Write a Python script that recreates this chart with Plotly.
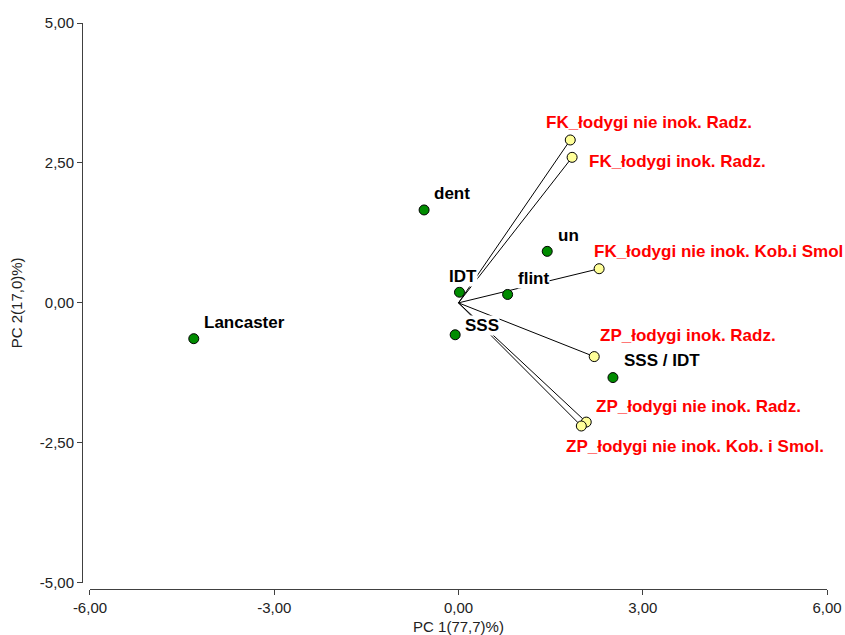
import plotly.graph_objects as go

# Object scores (green)
obj_names = ["Lancaster", "dent", "un", "IDT", "flint", "SSS", "SSS / IDT"]
obj_pc1 = [-4.31, -0.56, 1.445, 0.016, 0.80, -0.054, 2.515]
obj_pc2 = [-0.64, 1.66, 0.92, 0.19, 0.15, -0.57, -1.335]

# Variable loadings (yellow, with vectors from origin)
var_names = ["FK_łodygi nie inok. Radz.", "FK_łodygi inok. Radz.",
             "FK_łodygi nie inok. Kob.i Smol", "ZP_łodygi inok. Radz.",
             "ZP_łodygi nie inok. Radz.", "ZP_łodygi nie inok. Kob. i Smol."]
var_pc1 = [1.82, 1.85, 2.29, 2.21, 2.08, 2.00]
var_pc2 = [2.91, 2.60, 0.61, -0.96, -2.13, -2.20]

tick_x_vals = [-6, -3, 0, 3, 6]
tick_x_text = ["-6,00", "-3,00", "0,00", "3,00", "6,00"]
tick_y_vals = [-5, -2.5, 0, 2.5, 5]
tick_y_text = ["-5,00", "-2,50", "0,00", "2,50", "5,00"]

# label offsets in pixels (dx to left edge, dy to center, screen coords)
obj_off = [(9.7, -16.3), (9.3, -16.7), (9.7, -16.3), (-11.7, -15.6),
           (9, -16.4), (9.3, -9.3), (10, -17)]
var_off = [(-25, -17.6), (16.3, 4.3), (-5.7, -17.3), (5, -20.7),
           (8.3, -15.6), (-16.3, 20.7)]

FONT = "Liberation Sans, Arial, sans-serif"

fig = go.Figure()

# vectors
for x, y in zip(var_pc1, var_pc2):
    fig.add_trace(go.Scatter(x=[0, x], y=[0, y], mode="lines",
                             line=dict(color="black", width=1),
                             hoverinfo="skip", showlegend=False))

fig.add_trace(go.Scatter(x=obj_pc1, y=obj_pc2, mode="markers",
                         marker=dict(size=10, color="#008C00",
                                     line=dict(color="black", width=1)),
                         showlegend=False))
fig.add_trace(go.Scatter(x=var_pc1, y=var_pc2, mode="markers",
                         marker=dict(size=10, color="#FFFF99",
                                     line=dict(color="black", width=1)),
                         showlegend=False))

for n, x, y, (dx, dy) in zip(obj_names, obj_pc1, obj_pc2, obj_off):
    fig.add_annotation(x=x, y=y, text=n, showarrow=False, xanchor="left",
                       yanchor="middle", xshift=dx, yshift=-dy,
                       bgcolor="white", borderpad=0,
                       font=dict(family=FONT, size=17, color="black", weight="bold"))
for n, x, y, (dx, dy) in zip(var_names, var_pc1, var_pc2, var_off):
    fig.add_annotation(x=x, y=y, text=n, showarrow=False, xanchor="left",
                       yanchor="middle", xshift=dx, yshift=-dy,
                       bgcolor="white", borderpad=0,
                       font=dict(family=FONT, size=17, color="#FF0000", weight="bold"))

axis_common = dict(showgrid=False, zeroline=False, showline=True,
                   linecolor="#404040", linewidth=1, ticks="outside",
                   tickcolor="#404040", ticklen=5, automargin=False,
                   tickfont=dict(family=FONT, size=15, color="#222222"))

fig.update_layout(
    width=845, height=635, autosize=False,
    margin=dict(l=82, r=18, t=23, b=46, autoexpand=False),
    plot_bgcolor="white", paper_bgcolor="white",
    xaxis=dict(range=[-6, 6], domain=[0.0107, 1], anchor="free", position=0,
               tickvals=tick_x_vals, ticktext=tick_x_text,
               title=dict(text="PC 1(77,7)%)", standoff=6,
                          font=dict(family=FONT, size=15, color="#222222")),
               **axis_common),
    yaxis=dict(range=[-5, 5], domain=[0.0111, 1], anchor="free", position=0,
               tickvals=tick_y_vals, ticktext=tick_y_text,
               title=dict(text="PC 2(17,0)%)", standoff=12,
                          font=dict(family=FONT, size=15, color="#222222")),
               **axis_common),
)

# remove the default 8px page margin so the figure fills the window exactly
fig.write_html("out.html",
               config={"displayModeBar": False},
               post_script="document.body.style.margin='0';"
                           "document.body.style.overflow='hidden';")
